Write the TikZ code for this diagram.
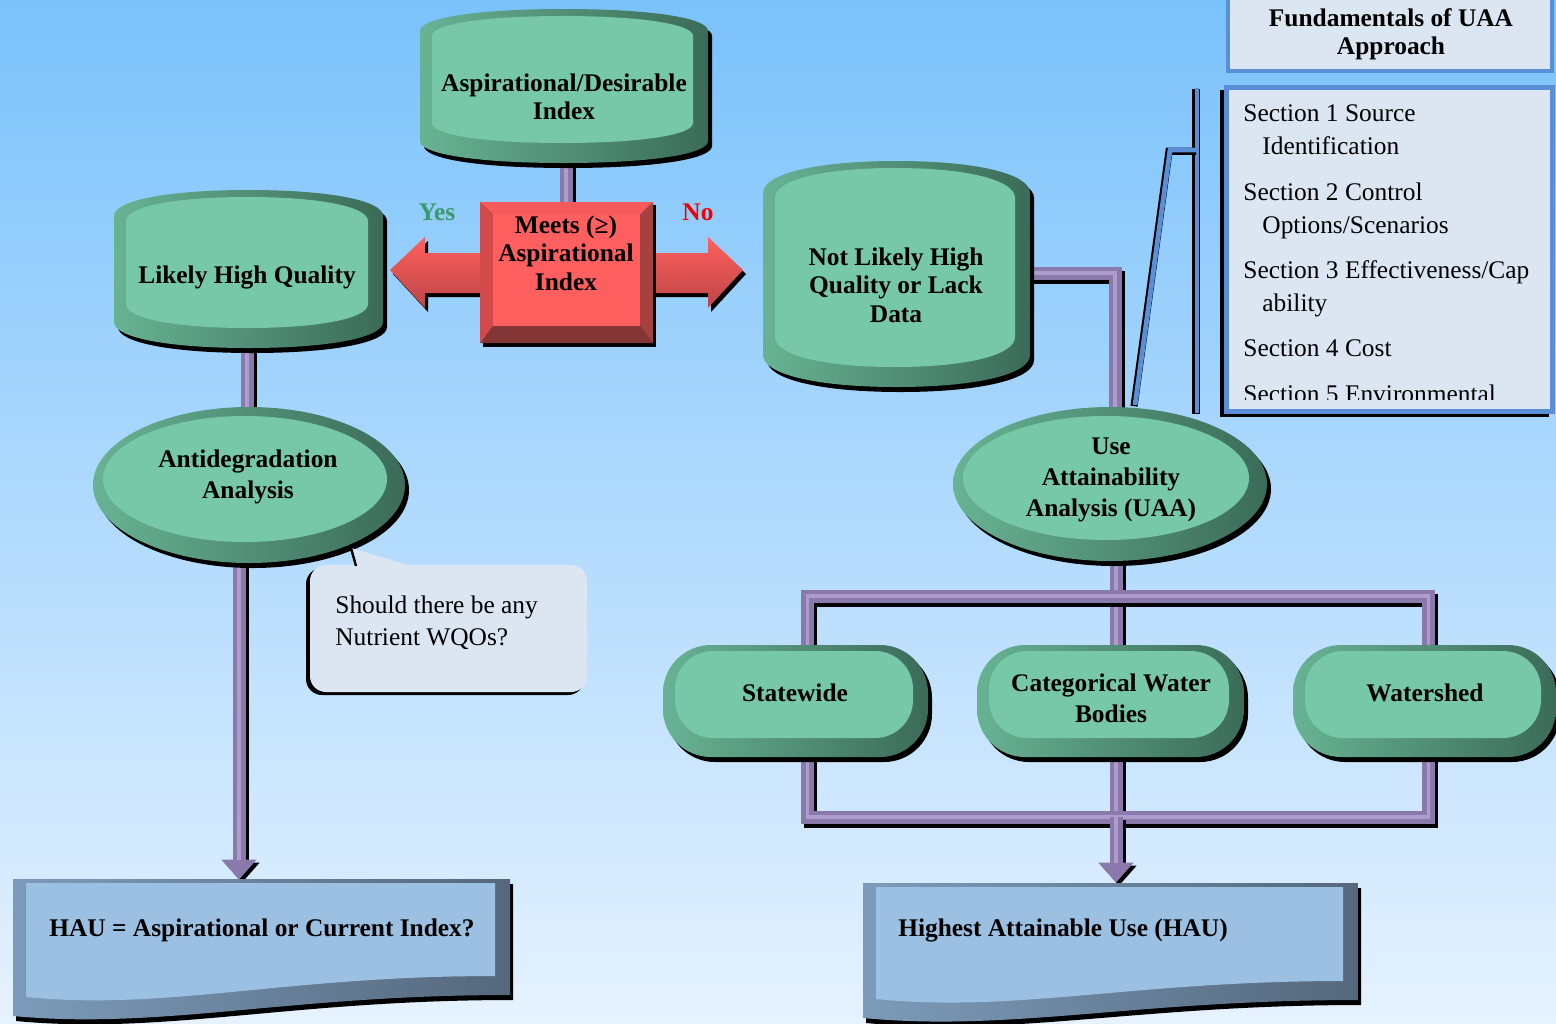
\documentclass[tikz,border=0pt]{standalone}
\usepackage{fontspec}
\setmainfont{Liberation Serif}
\usetikzlibrary{calc,arrows.meta}

\pgfdeclarelayer{back}
\pgfdeclarelayer{conn}
\pgfdeclarelayer{shapes}
\pgfsetlayers{back,conn,shapes,main}

% palette
\definecolor{bgtop}{HTML}{7AC2FB}
\definecolor{bgbot}{HTML}{E6F2FF}
\definecolor{gface}{HTML}{76C8A8}
\definecolor{gleft}{HTML}{68B394}
\definecolor{gright}{HTML}{3B6B58}
\definecolor{rface}{HTML}{FF5F5F}
\definecolor{rtop}{HTML}{F65A5A}
\definecolor{rleft}{HTML}{D24A4A}
\definecolor{rright}{HTML}{A54141}
\definecolor{rbot}{HTML}{843636}
\definecolor{rdark}{HTML}{BE4545}
\definecolor{bface}{HTML}{9CC0E2}
\definecolor{bleft}{HTML}{7C9BBA}
\definecolor{bright}{HTML}{55687C}
\definecolor{barmid}{HTML}{8A79AB}
\definecolor{barlite}{HTML}{AE9DCC}
\definecolor{panel}{HTML}{DCE6F2}
\definecolor{panelline}{HTML}{5A8ED6}
\definecolor{yesgreen}{HTML}{3A9B6A}
\definecolor{nored}{HTML}{F20000}

\newcommand\labfont{\fontsize{12.7}{14.2}\selectfont\bfseries}
\newcommand\ovalfont{\fontsize{12.7}{15.3}\selectfont\bfseries}
\newcommand\secfont{\fontsize{12.7}{16.5}\selectfont}
\newcommand\notefont{\fontsize{12.7}{16}\selectfont}

% barrel outline: style, x1, y1, x2, y2, bulge
\newcommand\canshape[6]{%
  \pgfmathsetmacro\cxa{#2}\pgfmathsetmacro\cya{#3}%
  \pgfmathsetmacro\cxb{#4}\pgfmathsetmacro\cyb{#5}\pgfmathsetmacro\cb{#6}%
  \pgfmathsetmacro\cxm{(\cxa+\cxb)/2}\pgfmathsetmacro\chw{0.6*(\cxb-\cxa)/2}%
  \pgfmathsetmacro\cyt{\cya+\cb}\pgfmathsetmacro\cytc{\cya+0.4*\cb}%
  \pgfmathsetmacro\cyu{\cyb-\cb}\pgfmathsetmacro\cyuc{\cyb-0.4*\cb}%
  \pgfmathsetmacro\cxl{\cxm-\chw}\pgfmathsetmacro\cxr{\cxm+\chw}%
  \path[#1] (\cxa,\cyt) .. controls (\cxa,\cytc) and (\cxl,\cya) .. (\cxm,\cya)
     .. controls (\cxr,\cya) and (\cxb,\cytc) .. (\cxb,\cyt) -- (\cxb,\cyu)
     .. controls (\cxb,\cyuc) and (\cxr,\cyb) .. (\cxm,\cyb)
     .. controls (\cxl,\cyb) and (\cxa,\cyuc) .. (\cxa,\cyu) -- cycle;}
\newcommand\drawcan[5]{%
  \canshape{fill=black,shift={(4,5)}}{#1}{#2}{#3}{#4}{#5}%
  \canshape{left color=gleft,right color=gright}{#1}{#2}{#3}{#4}{#5}%
  \canshape{fill=gface}{#1+12}{#2+7}{#3-15}{#4-20}{#5-2}}

% bevelled ellipse: cx, cy, rx, ry
\newcommand\drawoval[4]{%
  \fill[black] ({#1+4},{#2+5}) ellipse [x radius=#3, y radius=#4];
  \shade[left color=gleft,right color=gright] (#1,#2) ellipse [x radius=#3, y radius=#4];
  \fill[gface] ({#1-4},{#2-6}) ellipse [x radius={#3-14}, y radius={#4-15}];}

% bevelled pill: x1, y1, x2, y2
\newcommand\drawpill[4]{%
  \fill[black,rounded corners=24pt] ({#1+4},{#2+5}) rectangle ({#3+4},{#4+5});
  \shade[left color=gleft,right color=gright,rounded corners=24pt] (#1,#2) rectangle (#3,#4);
  \fill[gface,rounded corners=19pt] ({#1+12},{#2+6}) rectangle ({#3-15},{#4-19});}

% document outline with wavy foot: style, x1, y1, x2, yleft, yright
\newcommand\docshape[6]{%
  \pgfmathsetmacro\dxa{#2}\pgfmathsetmacro\dya{#3}\pgfmathsetmacro\dxb{#4}%
  \pgfmathsetmacro\dyl{#5}\pgfmathsetmacro\dyr{#6}%
  \pgfmathsetmacro\dca{\dxa+0.55*(\dxb-\dxa)}\pgfmathsetmacro\dcb{\dxa+0.3*(\dxb-\dxa)}%
  \pgfmathsetmacro\dyc{\dyl+14}%
  \path[#1] (\dxa,\dya) -- (\dxb,\dya) -- (\dxb,\dyr) .. controls (\dca,\dyr) and (\dcb,\dyc) .. (\dxa,\dyl) -- cycle;}
\newcommand\drawdoc[5]{%
  \docshape{fill=black,shift={(3,5)}}{#1}{#2}{#3}{#4}{#5}%
  \docshape{left color=bleft,right color=bright}{#1}{#2}{#3}{#4}{#5}%
  \docshape{fill=bface}{#1+13}{#2+4}{#3-15}{#4-19}{#5-19}}

% bevelled box: x1, y1, x2, y2, side depth, foot depth
\newcommand\bevelbox[6]{%
  \fill[black] ({#1+3},{#2+3}) rectangle ({#3+3},{#4+4});
  \fill[rbot] (#1,#4) -- (#3,#4) -- ({#3-#5},{#4-#6}) -- ({#1+#5},{#4-#6}) -- cycle;
  \fill[rtop] (#1,#2) -- (#3,#2) -- ({#3-#5},{#2+#5}) -- ({#1+#5},{#2+#5}) -- cycle;
  \fill[rleft] (#1,#2) -- ({#1+#5},{#2+#5}) -- ({#1+#5},{#4-#6}) -- (#1,#4) -- cycle;
  \fill[rright] (#3,#2) -- (#3,#4) -- ({#3-#5},{#4-#6}) -- ({#3-#5},{#2+#5}) -- cycle;
  \fill[rface] ({#1+#5},{#2+#5}) rectangle ({#3-#5},{#4-#6});}

\begin{document}
\begin{tikzpicture}[x=0.5pt,y=-0.5pt,
  txt/.style={font=\labfont, align=center, inner sep=0pt},
  ovaltxt/.style={font=\ovalfont, align=center, inner sep=0pt},
  bar/.style={draw=barmid, line width=6.5pt,
    preaction={draw=black, line width=6.5pt, transform canvas={shift={(1.5pt,-2pt)}}},
    postaction={draw=barlite, line width=1.6pt}},
  arrowbar/.style={draw=barmid, line width=6.5pt, -{Triangle[length=10pt,width=17pt]},
    preaction={draw=black, fill=black, line width=6.5pt, -{Triangle[length=10pt,width=17pt]},
      transform canvas={shift={(1.5pt,-1.5pt)}}},
    postaction={draw=barlite, line width=1.6pt, -, shorten >=10pt}},
  bracket/.style={draw=panelline, line width=2.4pt,
    preaction={draw=black, line width=3.6pt, transform canvas={shift={(-0.5pt,-0.6pt)}}}},
]
\useasboundingbox (0,0) rectangle (1556,1023);

% ---------------- text nodes ----------------
\node[txt] (asp) at (564,97) {Aspirational/Desirable\\Index};
\node[txt] (meets) at (566,253) {Meets (≥)\\Aspirational\\Index};
\node[txt] (likely) at (247,277) {Likely High Quality};
\node[txt] (nlhq) at (896,285) {Not Likely High\\Quality or Lack\\Data};
\node[ovaltxt] (antideg) at (248,477) {Antidegradation\\Analysis};
\node[ovaltxt] (uaa) at (1111,480) {Use\\Attainability\\Analysis (UAA)};
\node[txt] (sw) at (795,693) {Statewide};
\node[ovaltxt] (cat) at (1111,698) {Categorical Water\\Bodies};
\node[txt] (ws) at (1425,693) {Watershed};
\node[txt, minimum height=50pt] (hau1) at (262,930) {HAU = Aspirational or Current Index?};
\node[txt, minimum height=47pt] (hau2) at (1063,930) {Highest Attainable Use (HAU)};
\node[txt, text=yesgreen] (yes) at (437,212) {Yes};
\node[txt, text=nored] (no) at (698,212) {No};
% multi-line nodes below are anchored on the baseline of their last line
\node[font=\notefont, align=left, inner sep=0pt, anchor=base west] (note) at (335,645)
  {Should there be any\\Nutrient WQOs?};
\node[font=\labfont, align=center, inner sep=0pt] (fund) at (1391,34) {Fundamentals of UAA\\Approach};
\begin{scope}
  \clip (1226,88) rectangle (1551,399);
  \node[font=\secfont, align=left, inner sep=0pt, anchor=base west] (sect) at (1243,402)
   {Section 1 Source\\\hspace*{9.5pt}Identification\\[6.5pt]
    Section 2 Control\\\hspace*{9.5pt}Options/Scenarios\\[6pt]
    Section 3 Effectiveness/Cap\\\hspace*{9.5pt}ability\\[6pt]
    Section 4 Cost\\[6.5pt]
    Section 5 Environmental};
\end{scope}

% named ends of the connector frame and the panel bracket
\coordinate (frTL) at (807.5,596);
\coordinate (frBR) at (1428.5,817);
\coordinate (frTop) at (1116,596);
\coordinate (frBot) at (1116,817);
\coordinate (elbow) at (1115,273);
\coordinate (adx) at (239,0);
\coordinate (brTop) at (1197,88);
\coordinate (brBot) at (1197,413);
\coordinate (brKnee) at (1197,150);
\coordinate (brElbow) at (1170,150);
\coordinate (brTip) at (1135,405);

% ---------------- background ----------------
\begin{pgfonlayer}{back}
  \shade[top color=bgtop, bottom color=bgbot] (0,0) rectangle (1556,1023);
\end{pgfonlayer}

% ---------------- connectors ----------------
\begin{pgfonlayer}{conn}
  \draw[bar] (meets.north) -- (meets.north |- asp.south);
  \draw[bar] (likely.south) -- (likely.south |- antideg.north);
  \draw[arrowbar] (antideg.south -| adx) -- (hau1.north -| adx);
  \draw[bar, line join=miter] (nlhq.center |- elbow) -- (elbow) -- (elbow |- uaa.north);
  \draw[bar] (uaa.south -| frTop) -- (frBot);
  \draw[bar, line join=miter] (frTL) rectangle (frBR);
  \draw[arrowbar] (frBot) -- (frBot |- hau2.north);
  \draw[bracket] (brTop) -- (brBot);
  \draw[bracket, line join=miter] (brKnee) -- (brElbow) -- (brTip);
\end{pgfonlayer}

% ---------------- shapes ----------------
\begin{pgfonlayer}{shapes}
  % barrels
  \drawcan{420}{9}{708}{163}{22}
  \drawcan{114}{190}{383}{348}{26}
  \drawcan{763}{161}{1030}{387}{32}
  % double arrow and decision box
  \fill[black, shift={(3,4)}] (390,270) -- (425,237) -- (425,253) -- (708,253) -- (708,237)
     -- (743,270) -- (708,308) -- (708,293) -- (425,293) -- (425,308) -- cycle;
  \shade[top color=rface, bottom color=rdark] (390,270) -- (425,237) -- (425,253) -- (708,253) -- (708,237)
     -- (743,270) -- (708,308) -- (708,293) -- (425,293) -- (425,308) -- cycle;
  \bevelbox{480}{202}{653}{343}{13}{17}
  % ellipses
  \drawoval{249}{485}{156}{78}
  \drawoval{1110}{484}{157}{77}
  % pills
  \drawpill{663}{645}{928}{757}
  \drawpill{977}{645}{1244}{757}
  \drawpill{1293}{645}{1556}{757}
  % documents
  \drawdoc{13}{879}{510}{1016}{995}
  \drawdoc{863}{883}{1358}{1018}{1000}
  % callout
  \fill[black, rounded corners=8pt] (306,568) rectangle (584,695);
  \fill[panel, rounded corners=8pt] (310,565) rectangle (587,692);
  \fill[panel] (351,548) -- (357,570) -- (425,570) -- cycle;
  \draw[black, line width=1.2pt] (351,548) -- (356,566);
  % UAA panels
  \draw[panelline, fill=panel, line width=2pt] (1228,-10) rectangle (1552,71);
  \fill[black] (1220,90) rectangle (1549,417);
  \draw[panelline, fill=panel, line width=2.5pt] (1226,87) rectangle (1552,411);
\end{pgfonlayer}
\end{tikzpicture}
\end{document}
